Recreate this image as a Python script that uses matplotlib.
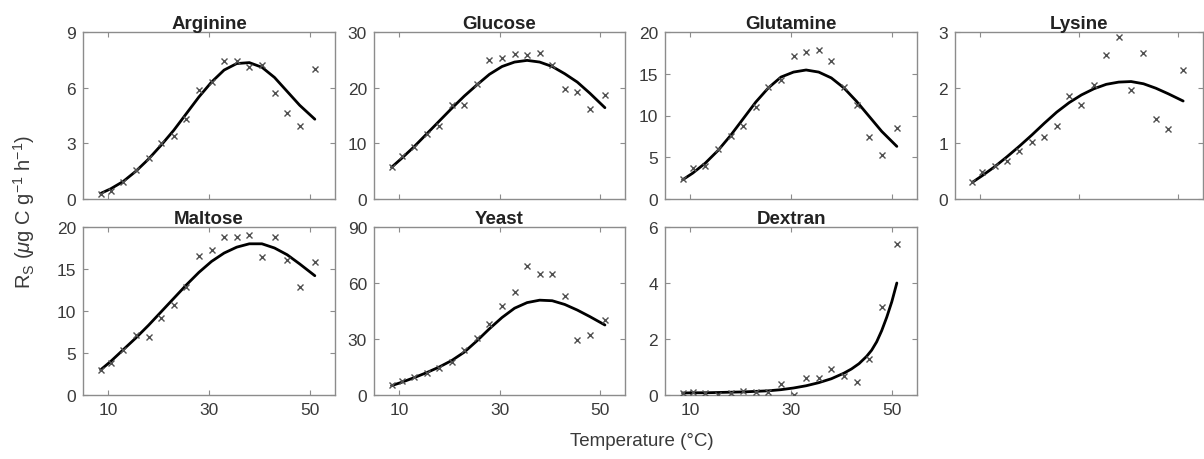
import matplotlib
matplotlib.use("Agg")
import matplotlib.pyplot as plt

plt.rcParams['font.family'] = ['Liberation Sans', 'DejaVu Sans']
plt.rcParams['mathtext.fontset'] = 'custom'
plt.rcParams['mathtext.rm'] = 'Liberation Sans'
plt.rcParams['mathtext.it'] = 'Liberation Sans:italic'

# 测量温度 (°C)
temps = [8.5, 10.5, 13, 15.5, 18, 20.5, 23, 25.5, 28, 30.5, 33, 35.5, 38, 40.5, 43, 45.5, 48, 51]
# 拟合曲线的温度点
curve_t = [8.5, 10.5, 13, 15.5, 18, 20.5, 23, 25.5, 28, 30.5, 33, 35.5, 38, 40.5, 43, 45.5, 48, 51]
dextran_curve_t = [8.5, 10.5, 13, 15.5, 18, 20.5, 23, 25.5, 28, 30.5, 33, 35.5, 38, 40.5, 42, 43.5,
                   45, 46, 47, 48, 49, 50, 51]

substrates = ["Arginine", "Glucose", "Glutamine", "Lysine", "Maltose", "Yeast", "Dextran"]

arginine_obs = [0.27, 0.45, 0.94, 1.58, 2.2, 3.0, 3.4, 4.3, 5.9, 6.3, 7.43, 7.46, 7.1, 7.2, 5.7, 4.62, 3.96, 7.0]
arginine_fit = [0.3, 0.55, 0.95, 1.5, 2.15, 2.9, 3.7, 4.6, 5.5, 6.3, 6.95, 7.3, 7.35, 7.1, 6.55, 5.8, 5.05, 4.3]

glucose_obs = [5.7, 7.8, 9.3, 11.7, 13.2, 16.8, 16.8, 20.7, 25.0, 25.4, 26.1, 25.8, 26.3, 24.0, 19.8, 19.3, 16.1, 18.7]
glucose_fit = [5.7, 7.3, 9.4, 11.7, 14.0, 16.3, 18.5, 20.5, 22.4, 23.8, 24.6, 24.9, 24.6, 23.8, 22.5, 21.0, 19.0, 16.4]

glutamine_obs = [2.4, 3.7, 4.0, 6.0, 7.6, 8.8, 11.0, 13.4, 14.2, 17.1, 17.6, 17.8, 16.5, 13.4, 11.3, 7.4, 5.3, 8.5]
glutamine_fit = [2.3, 3.1, 4.3, 5.8, 7.6, 9.6, 11.6, 13.3, 14.6, 15.2, 15.45, 15.2, 14.5, 13.3, 11.7, 9.9, 8.1, 6.3]

lysine_obs = [0.31, 0.49, 0.6, 0.68, 0.87, 1.02, 1.11, 1.31, 1.85, 1.69, 2.05, 2.58, 2.91, 1.95, 2.62, 1.43, 1.26, 2.32]
lysine_fit = [0.3, 0.42, 0.58, 0.76, 0.95, 1.15, 1.36, 1.56, 1.73, 1.87, 1.98, 2.06, 2.1, 2.11, 2.07, 1.99, 1.89, 1.76]

maltose_obs = [3.0, 3.8, 5.3, 7.2, 6.9, 9.2, 10.7, 12.8, 16.5, 17.3, 18.8, 18.8, 19.0, 16.4, 18.8, 16.1, 12.8, 15.8]
maltose_fit = [3.0, 4.0, 5.4, 6.8, 8.3, 9.9, 11.5, 13.1, 14.6, 15.9, 16.9, 17.6, 18.0, 18.0, 17.5, 16.7, 15.6, 14.2]

yeast_obs = [5.4, 7.7, 9.9, 11.7, 14.4, 17.6, 23.9, 30.5, 38.3, 47.6, 55.0, 69.3, 64.7, 64.7, 53.2, 29.3, 32.3, 40.4]
yeast_fit = [5.0, 6.8, 9.3, 12.0, 15.0, 18.5, 23.0, 29.0, 35.5, 41.5, 46.5, 49.5, 50.8, 50.5, 48.5, 45.5, 42.0, 37.5]

dextran_obs = [0.06, 0.1, 0.07, 0.01, 0.08, 0.16, 0.12, 0.1, 0.4, 0.01, 0.61, 0.61, 0.93, 0.67, 0.48, 1.29, 3.15, 5.4]
dextran_fit = [0.07, 0.08, 0.08, 0.09, 0.1, 0.11, 0.13, 0.15, 0.19, 0.25, 0.33, 0.44, 0.58, 0.78, 0.93, 1.12,
               1.38, 1.6, 1.9, 2.3, 2.78, 3.33, 4.0]

observed = [arginine_obs, glucose_obs, glutamine_obs, lysine_obs, maltose_obs, yeast_obs, dextran_obs]
fitted = [arginine_fit, glucose_fit, glutamine_fit, lysine_fit, maltose_fit, yeast_fit, dextran_fit]
fit_t = [curve_t] * 6 + [dextran_curve_t]

y_ticks = [
    [0, 3, 6, 9],
    [0, 10, 20, 30],
    [0, 5, 10, 15, 20],
    [0, 1, 2, 3],
    [0, 5, 10, 15, 20],
    [0, 30, 60, 90],
    [0, 2, 4, 6],
]
x_ticks = [10, 30, 50]

# 画布布局 (像素换算)
W, H = 1204, 460
fig = plt.figure(figsize=(W / 100, H / 100), dpi=100)
lefts = [83, 374, 665, 955]
widths = [252, 251, 252, 248]
rows = [(33, 200), (228, 396)]

grey = "#8c8c8c"
txt = "#3a3a3a"

for i, name in enumerate(substrates):
    r, c = divmod(i, 4)
    top, bot = rows[r]
    ax = fig.add_axes([lefts[c] / W, 1 - bot / H, widths[c] / W, (bot - top) / H])

    ax.plot(fit_t[i], fitted[i], color="black", lw=2.0, solid_capstyle="round",
            solid_joinstyle="round", zorder=2)
    ax.plot(temps, observed[i], linestyle="none", marker="x", ms=4.5, mew=1.0,
            color="#505050", zorder=3)

    ax.set_xlim(5, 55)
    ax.set_ylim(y_ticks[i][0], y_ticks[i][-1])
    ax.set_xticks(x_ticks)
    ax.set_yticks(y_ticks[i])
    if r == 0:
        ax.set_xticklabels([])

    ax.set_title(name, fontsize=13.5, fontweight="bold", color="#222222", pad=3)
    for s in ax.spines.values():
        s.set_color(grey)
        s.set_linewidth(1.0)
    ax.tick_params(direction="in", top=True, right=True, length=3.5, width=0.8,
                   color=grey, labelcolor=txt, labelsize=12.5, pad=5)

fig.text(24 / W, 1 - 212 / H, r"R$_\mathrm{S}$ ($\mathit{\mu}$g C g$^{-1}$ h$^{-1}$)",
         rotation=90, ha="center", va="center", fontsize=14.5, color=txt)
fig.text(642 / W, 1 - 442 / H, "Temperature (°C)", ha="center", va="center",
         fontsize=13.5, color=txt)

fig.savefig("out.png", dpi=100)
plt.close(fig)
